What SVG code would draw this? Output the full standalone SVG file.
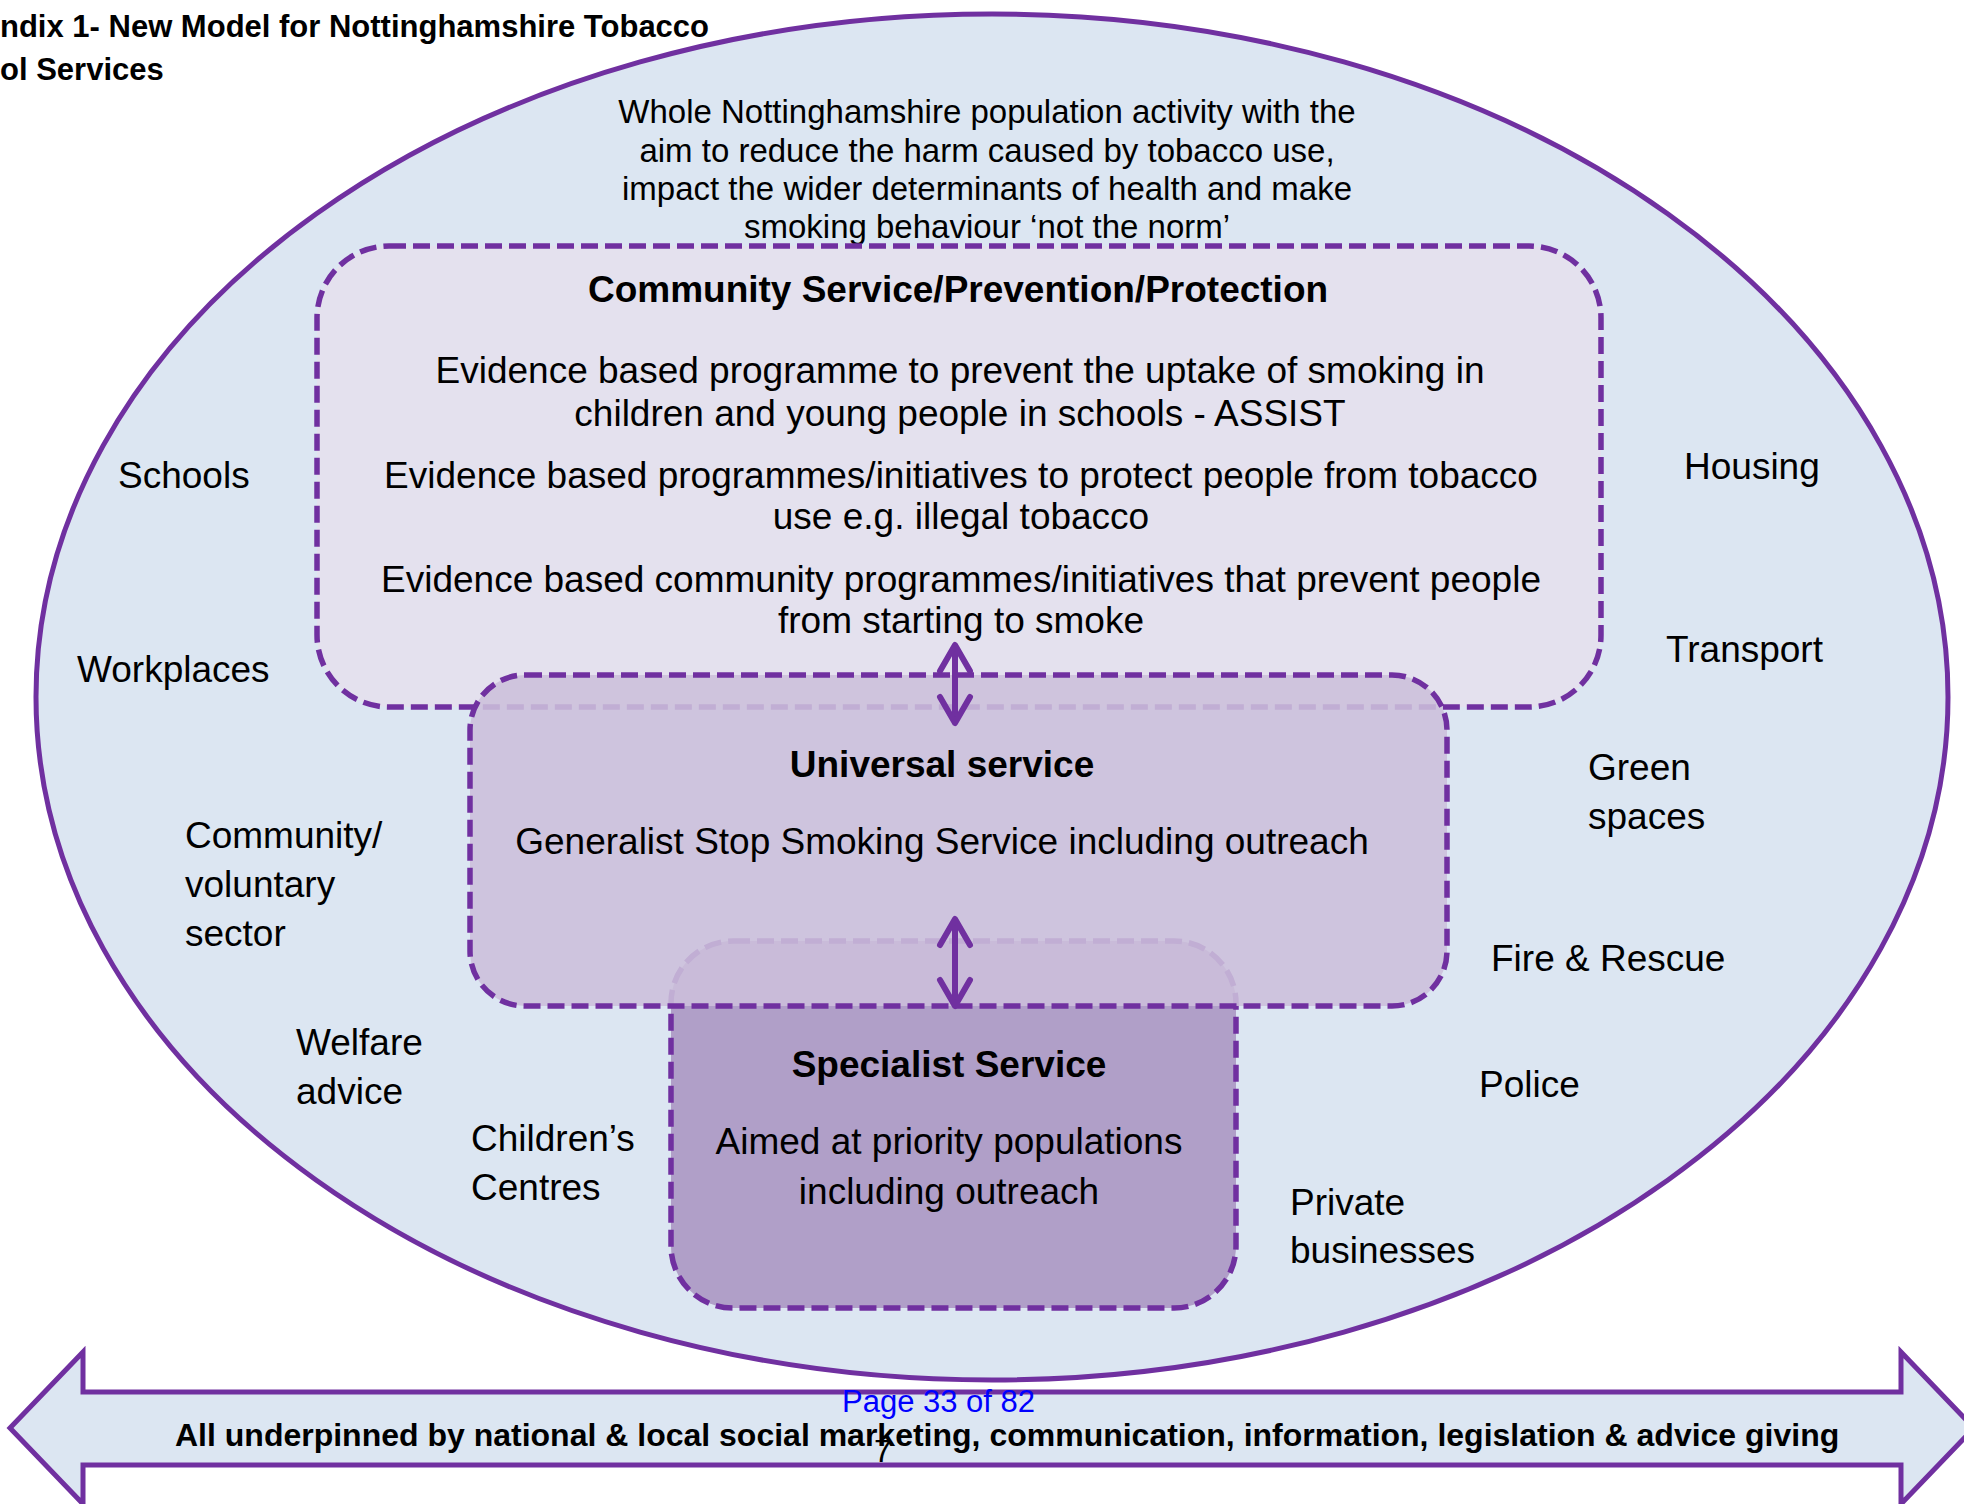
<svg xmlns="http://www.w3.org/2000/svg" width="1964" height="1504" viewBox="0 0 1964 1504">
  <style>
    text { font-family: "Liberation Sans", Arial, sans-serif; fill: #000; }
    .title { font-size: 31px; font-weight: bold; }
    .lead { font-size: 33px; text-anchor: middle; }
    .head { font-size: 37px; font-weight: bold; text-anchor: middle; }
    .body { font-size: 37px; text-anchor: middle; }
    .label { font-size: 37px; }
    .band { font-size: 32px; font-weight: bold; }
    .page { font-size: 31px; fill: #0000FF; }
    .tier { stroke: #7030A0; stroke-width: 5.5; stroke-dasharray: 17 7; }
    .link { stroke: #7030A0; stroke-width: 6; fill: none; }
  </style>
  <defs>
    <marker id="chev" markerUnits="userSpaceOnUse" viewBox="-32 -20 38 40" refX="0" refY="0" markerWidth="38" markerHeight="40" orient="auto-start-reverse" overflow="visible">
      <path d="M-26,-15 L0,0 L-26,15" fill="none" stroke="#7030A0" stroke-width="6" stroke-linecap="round" stroke-linejoin="round"/>
    </marker>
  </defs>

  <rect width="1964" height="1504" fill="#FFFFFF"/>

  <!-- heading -->
  <g id="heading">
    <text class="title" x="0" y="37">ndix 1- New Model for Nottinghamshire Tobacco</text>
    <text class="title" x="0" y="80">ol Services</text>
  </g>

  <!-- whole population -->
  <g id="population">
    <ellipse cx="992" cy="697" rx="956" ry="683" fill="#DCE6F2" stroke="#7030A0" stroke-width="5"/>
    <text class="lead" x="987" y="123">Whole Nottinghamshire population activity with the</text>
    <text class="lead" x="987" y="162">aim to reduce the harm caused by tobacco use,</text>
    <text class="lead" x="987" y="200">impact the wider determinants of health and make</text>
    <text class="lead" x="987" y="238">smoking behaviour ‘not the norm’</text>
  </g>

  <!-- community tier -->
  <g id="community">
    <rect class="tier" x="317" y="246" width="1284" height="461" rx="72" ry="72" fill="#E4E1EE"/>
  </g>

  <!-- specialist tier (drawn below the universal tier) -->
  <g id="specialist">
    <rect class="tier" x="671" y="941" width="565" height="367" rx="62" ry="62" fill="#B09FC8"/>
  </g>

  <!-- universal tier -->
  <g id="universal">
    <rect x="470" y="675" width="977" height="331" rx="55" ry="55" fill="#CCBFDB" fill-opacity="0.88"/>
    <rect class="tier" x="470" y="675" width="977" height="331" rx="55" ry="55" fill="none"/>
  </g>

  <!-- tier texts -->
  <g id="community-text">
    <text class="head" x="958" y="302">Community Service/Prevention/Protection</text>
    <text class="body" x="960" y="383">Evidence based programme to prevent the uptake of smoking in</text>
    <text class="body" x="960" y="426">children and young people in schools - ASSIST</text>
    <text class="body" x="961" y="488">Evidence based programmes/initiatives to protect people from tobacco</text>
    <text class="body" x="961" y="529">use e.g. illegal tobacco</text>
    <text class="body" x="961" y="592">Evidence based community programmes/initiatives that prevent people</text>
    <text class="body" x="961" y="633">from starting to smoke</text>
  </g>
  <g id="universal-text">
    <text class="head" x="942" y="777">Universal service</text>
    <text class="body" x="942" y="854">Generalist Stop Smoking Service including outreach</text>
  </g>
  <g id="specialist-text">
    <text class="head" x="949" y="1077">Specialist Service</text>
    <text class="body" x="949" y="1154">Aimed at priority populations</text>
    <text class="body" x="949" y="1204">including outreach</text>
  </g>

  <!-- connectors between tiers -->
  <g id="connectors">
    <line class="link" x1="955" y1="645" x2="955" y2="723" marker-start="url(#chev)" marker-end="url(#chev)"/>
    <line class="link" x1="955" y1="919" x2="955" y2="1006" marker-start="url(#chev)" marker-end="url(#chev)"/>
  </g>

  <!-- settings around the tiers -->
  <g id="settings-left">
    <text class="label" x="118" y="488">Schools</text>
    <text class="label" x="77" y="682">Workplaces</text>
    <text class="label" x="185" y="848">Community/</text>
    <text class="label" x="185" y="897">voluntary</text>
    <text class="label" x="185" y="946">sector</text>
    <text class="label" x="296" y="1055">Welfare</text>
    <text class="label" x="296" y="1104">advice</text>
    <text class="label" x="471" y="1151">Children’s</text>
    <text class="label" x="471" y="1200">Centres</text>
  </g>
  <g id="settings-right">
    <text class="label" x="1684" y="479">Housing</text>
    <text class="label" x="1666" y="662">Transport</text>
    <text class="label" x="1588" y="780">Green</text>
    <text class="label" x="1588" y="829">spaces</text>
    <text class="label" x="1491" y="971">Fire &amp; Rescue</text>
    <text class="label" x="1479" y="1097">Police</text>
    <text class="label" x="1290" y="1215">Private</text>
    <text class="label" x="1290" y="1263">businesses</text>
  </g>

  <!-- underpinning band -->
  <g id="underpinning">
    <polygon points="10,1428 83,1352 83,1392 1901,1392 1901,1352 1974,1428 1901,1504 1901,1465 83,1465 83,1504" fill="#DCE6F2" stroke="#7030A0" stroke-width="5" stroke-linejoin="miter"/>
    <text class="band" x="175" y="1446">All underpinned by national &amp; local social marketing, communication, information, legislation &amp; advice giving</text>
  </g>

  <!-- page footer -->
  <g id="footer">
    <text class="page" x="842" y="1412">Page 33 of 82</text>
    <text class="label" x="874" y="1462" style="font-size:32px">7</text>
  </g>
</svg>
